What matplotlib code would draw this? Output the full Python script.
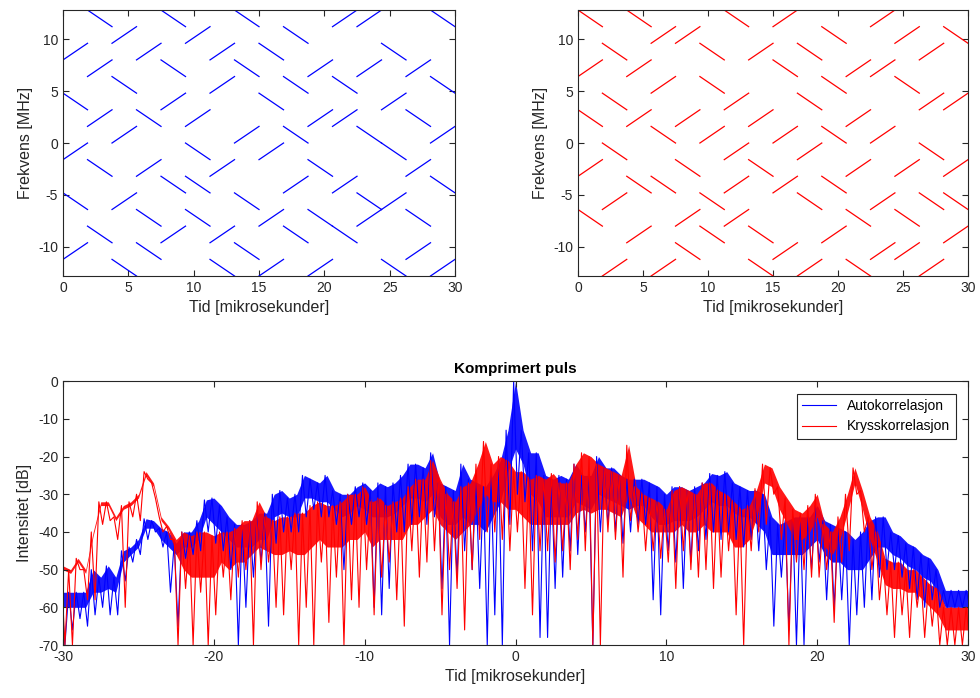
import numpy as np
import matplotlib
matplotlib.use("Agg")
import matplotlib.pyplot as plt

plt.rcParams["font.family"] = ["Liberation Sans", "DejaVu Sans"]

# chirp segments per time slot, as (start level, end level) in frequency steps
blue_segments = [
    [(5, 6), (3, 2), (-1, 0), (-3, -4), (-7, -6)],
    [(8, 7), (4, 5), (1, 2), (-1, -2), (-5, -6)],
    [(6, 7), (4, 3), (0, 1), (-4, -3), (-7, -8)],
    [(5, 6), (2, 1), (-2, -1), (-4, -5), (-6, -7)],
    [(8, 7), (5, 4), (2, 3), (-2, -3), (-6, -5)],
    [(6, 7), (1, 2), (0, -1), (-2, -3), (-4, -5)],
    [(5, 6), (3, 4), (-2, -1), (-6, -5), (-7, -8)],
    [(8, 7), (5, 4), (0, 1), (-3, -4), (-6, -7)],
    [(6, 5), (3, 2), (-1, 0), (-5, -4), (-8, -7)],
    [(7, 6), (4, 3), (1, 0), (-3, -2), (-5, -6)],
    [(4, 5), (1, 2), (-1, -2), (-4, -5), (-8, -7)],
    [(7, 8), (4, 3), (1, 2), (-3, -2), (-5, -6)],
    [(7, 8), (4, 5), (1, 0), (-3, -4), (-5, -4)],
    [(6, 5), (2, 3), (0, -1), (-4, -3), (-7, -8)],
    [(4, 5), (2, 1), (-2, -1), (-4, -5), (-7, -6)],
    [(8, 7), (4, 3), (0, 1), (-2, -3), (-8, -7)],
]
red_segments = [
    [(8, 7), (4, 5), (2, 1), (-2, -1), (-4, -5)],
    [(6, 5), (3, 2), (0, -1), (-4, -3), (-8, -7)],
    [(8, 7), (4, 5), (1, 2), (-2, -3), (-6, -5)],
    [(6, 7), (3, 4), (1, 0), (-2, -3), (-8, -7)],
    [(6, 7), (1, 2), (-1, -2), (-5, -4), (-6, -7)],
    [(6, 5), (4, 3), (0, 1), (-3, -4), (-5, -6)],
    [(8, 7), (2, 3), (-1, 0), (-3, -2), (-5, -4)],
    [(5, 6), (1, 2), (-1, -2), (-5, -6), (-7, -8)],
    [(7, 8), (5, 4), (0, 1), (-3, -2), (-7, -6)],
    [(6, 5), (3, 2), (-1, 0), (-3, -4), (-8, -7)],
    [(7, 6), (4, 3), (1, 0), (-2, -3), (-6, -5)],
    [(4, 5), (1, 2), (-2, -1), (-4, -5), (-7, -8)],
    [(7, 8), (4, 5), (0, 1), (-4, -3), (-7, -6)],
    [(6, 7), (4, 3), (-2, -1), (-4, -5), (-7, -6)],
    [(5, 6), (2, 3), (0, -1), (-3, -4), (-8, -7)],
    [(7, 6), (2, 3), (-2, -1), (-3, -4), (-6, -5)],
]
slot_us = 30 / 16
step_mhz = 1.6

# compressed pulse, read every 0.5 us: top of trace, bottom of the dense band, deepest dip
time_us = np.arange(-30, 30.01, 0.5)
auto_hi = [-56, -56, -56, -56, -50, -52, -49, -52, -45, -44, -42, -36.5, -37, -39, -40, -43, -40, -40, -37, -31.5,
           -31, -33, -36, -38, -38, -37, -35, -35, -30, -29, -31, -30, -25, -26, -27, -25, -29, -30, -30, -28,
           -27, -29, -27, -28, -27, -25, -22, -22, -23, -19, -27, -28, -29, -22, -26, -27, -28, -25, -21, -13,
           0, -13, -19, -19, -25, -26, -25, -26, -22, -25, -25, -20, -23, -23, -25, -26, -26, -26, -27, -28,
           -30, -28, -28, -29, -28, -27, -24.5, -25, -24, -27, -28, -29, -29, -30, -36, -38, -37, -36, -36, -36,
           -33, -37, -38, -39, -40, -42, -40, -37, -36, -36, -40, -41, -43, -44, -46, -47, -50, -55.5, -55.5, -55.5,
           -55.5]
auto_body = [-60, -60, -60, -60, -56, -56, -55, -56, -48, -46, -44, -39, -39, -42, -44, -46, -44, -44, -42, -36,
             -38, -40, -42, -44, -44, -44, -42, -42, -36, -35, -36, -36, -31, -31, -32, -32, -34, -36, -35, -33,
             -34, -36, -36, -36, -35, -33, -31, -31, -32, -30, -36, -38, -38, -36, -38, -38, -40, -36, -32, -24,
             -18, -22, -30, -32, -36, -36, -36, -36, -32, -33, -34, -30, -31, -32, -33, -34, -33, -33, -36, -38,
             -38, -37, -37, -37, -36, -34, -32, -33, -33, -35, -36, -36, -38, -40, -46, -46, -46, -46, -46, -44,
             -42, -46, -48, -48, -50, -50, -50, -47, -44, -44, -46, -47, -49, -50, -52, -53, -56, -60, -60, -60,
             -60]
auto_lo = [-70, -66, -63, -65, -62, -60, -62, -62, -53, -48, -46, -42, -40, -44, -56, -65, -47, -46, -45, -40,
           -43, -45, -50, -70, -60, -52, -48, -65, -43, -40, -40, -40, -36, -34, -36, -36, -38, -50, -38, -36,
           -38, -60, -62, -55, -40, -40, -38, -36, -38, -36, -55, -70, -52, -45, -50, -55, -70, -62, -70, -38,
           -30, -32, -45, -68, -68, -55, -52, -45, -46, -40, -70, -40, -38, -40, -43, -40, -38, -38, -58, -62,
           -45, -48, -55, -48, -45, -42, -40, -42, -40, -42, -44, -42, -45, -50, -65, -52, -66, -70, -70, -50,
           -48, -58, -60, -58, -70, -62, -60, -58, -52, -50, -50, -52, -55, -58, -60, -58, -60, -60, -60, -60,
           -60]
cross_hi = [-49, -50, -47, -50, -40, -32, -32, -36, -33, -32, -30, -24, -27, -36, -38.5, -42, -40, -41, -40, -40,
            -41, -40, -40, -39, -37, -37, -32, -36, -37, -36, -36, -35, -35, -33, -32, -33, -33, -32, -30, -30,
            -28, -32, -31, -33, -32, -31, -28, -26, -26, -21, -26, -30, -32, -28, -27, -22, -16, -22, -20, -21,
            -24, -24, -26, -25, -26, -24.5, -27, -27, -22, -19, -20, -22, -23, -24, -25, -17, -28, -30, -31, -32,
            -34, -29, -28, -29, -30, -27, -27, -29, -30, -32, -34, -33, -28.5, -22, -23, -28, -31, -34, -35, -33,
            -30, -38, -40, -36, -30, -23, -29, -36, -40, -47, -48, -48, -50, -50, -52, -54, -55, -60, -60, -60,
            -60]
cross_body = [-50, -51, -48, -51, -41, -33, -33, -37, -34, -33, -31, -25, -28, -37, -39.5, -46, -50, -52, -52, -52,
              -52, -48, -50, -48, -48, -46, -44, -45, -46, -46, -45, -46, -46, -44, -42, -44, -44, -44, -42, -42,
              -40, -44, -42, -42, -42, -42, -38, -38, -36, -34, -38, -40, -42, -40, -38, -34, -30, -32, -32, -34,
              -34, -36, -38, -38, -38, -38, -38, -38, -35, -34, -35, -34, -34, -35, -36, -30, -36, -38, -40, -40,
              -40, -40, -38, -40, -40, -38, -40, -40, -40, -44, -44, -42, -36, -27, -28, -34, -38, -42, -42, -40,
              -36, -44, -46, -42, -35, -27, -34, -42, -48, -54, -55, -55, -56, -56, -58, -60, -62, -66, -66, -66,
              -66]
cross_lo = [-70, -70, -50, -58, -58, -38, -37, -42, -60, -36, -37, -26, -31, -40, -42, -70, -55, -70, -56, -70,
            -62, -52, -58, -52, -50, -70, -50, -48, -60, -62, -50, -70, -60, -70, -48, -64, -52, -70, -58, -60,
            -50, -62, -52, -48, -58, -65, -45, -52, -48, -45, -62, -50, -55, -66, -50, -42, -40, -40, -42, -45,
            -40, -55, -62, -45, -45, -48, -45, -50, -42, -45, -70, -70, -40, -42, -52, -37, -40, -45, -45, -47,
            -48, -55, -45, -50, -52, -50, -55, -52, -45, -62, -70, -45, -40, -38, -30, -42, -70, -48, -50, -52,
            -52, -50, -64, -48, -45, -30, -40, -50, -58, -62, -68, -62, -68, -60, -68, -65, -70, -70, -70, -70,
            -70]
legend_labels = ["Autokorrelasjon", "Krysskorrelasjon"]

axis_grey = "#262626"
plt.rcParams.update({
    "axes.edgecolor": axis_grey,
    "xtick.color": axis_grey,
    "ytick.color": axis_grey,
    "axes.labelcolor": axis_grey,
    "axes.unicode_minus": False,
    "xtick.direction": "in",
    "ytick.direction": "in",
    "xtick.top": True,
    "ytick.right": True,
    "font.size": 10,
})

fig = plt.figure(figsize=(9.8, 6.98), dpi=100)
ax_blue = fig.add_axes([0.0643, 0.6046, 0.400, 0.381])
ax_red = fig.add_axes([0.5898, 0.6046, 0.398, 0.381])
ax_pulse = fig.add_axes([0.0643, 0.0759, 0.9235, 0.378])


def draw_pattern(ax, segments, color):
    for slot, pairs in enumerate(segments):
        t0 = slot * slot_us
        for start, end in pairs:
            ax.plot([t0, t0 + slot_us], [start * step_mhz, end * step_mhz],
                    color=color, linewidth=0.9)
    ax.set_xlim(0, 30)
    ax.set_ylim(-8 * step_mhz, 8 * step_mhz)
    ax.set_xticks(np.arange(0, 31, 5))
    ax.set_yticks([-10, -5, 0, 5, 10])
    ax.set_xlabel("Tid [mikrosekunder]", fontsize=11.5)
    ax.set_ylabel("Frekvens [MHz]", fontsize=11.5)
    ax.tick_params(length=4, width=0.8)
    for spine in ax.spines.values():
        spine.set_linewidth(0.8)


draw_pattern(ax_blue, blue_segments, "#0000ff")
draw_pattern(ax_red, red_segments, "#ff0000")


def draw_trace(ax, hi, body, lo, color, label):
    hi, body, lo = np.array(hi), np.array(body), np.array(lo)
    ax.fill_between(time_us, hi, body, color=color, linewidth=0, alpha=0.9)
    xs = np.column_stack([time_us - 0.125, time_us + 0.125]).ravel()
    ys = np.column_stack([hi, lo]).ravel()
    ax.plot(xs, ys, color=color, linewidth=0.8, label=label)


draw_trace(ax_pulse, auto_hi, auto_body, auto_lo, "#0000ff", legend_labels[0])
draw_trace(ax_pulse, cross_hi, cross_body, cross_lo, "#ff0000", legend_labels[1])
ax_pulse.set_xlim(-30, 30)
ax_pulse.set_ylim(-70, 0)
ax_pulse.set_xticks(np.arange(-30, 31, 10))
ax_pulse.set_yticks(np.arange(-70, 1, 10))
ax_pulse.set_xlabel("Tid [mikrosekunder]", fontsize=11.5)
ax_pulse.set_ylabel("Intensitet [dB]", fontsize=11.5)
ax_pulse.set_title("Komprimert puls", fontsize=11, fontweight="bold", color="black", pad=6)
ax_pulse.tick_params(length=4, width=0.8)
for spine in ax_pulse.spines.values():
    spine.set_linewidth(0.8)
leg = ax_pulse.legend(loc="upper right", fontsize=10, fancybox=False, framealpha=1,
                      edgecolor=axis_grey, borderaxespad=0.9, handlelength=2.4,
                      borderpad=0.4, labelspacing=0.45)
leg.get_frame().set_linewidth(0.8)

fig.savefig("out.png", dpi=100)
